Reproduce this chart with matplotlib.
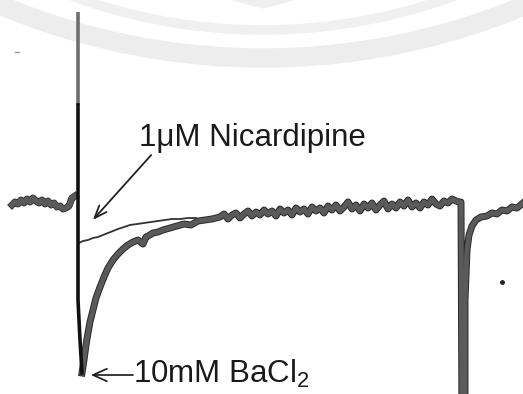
import matplotlib
matplotlib.use("Agg")
import matplotlib.pyplot as plt
import matplotlib.patheffects as pe
from matplotlib.patches import Arc
import numpy as np

plt.rcParams['font.family'] = ['Liberation Sans', 'DejaVu Sans']

# trace values: time (a.u.) and current (a.u., baseline ~ 0)
# y values below are given in picture rows, converted to current further down
pre_t = [12, 15, 18, 21, 24, 27, 30, 33, 36, 39, 42, 45, 48, 51, 54, 57, 60, 63, 66, 69, 72, 75]
pre_row = [205, 202, 204, 200, 203, 199, 202, 198, 201, 203, 200, 204, 201, 205, 203, 207, 206, 209, 208, 206, 198, 196]

# BaCl2 response (thick trace), including the second pulse at the right
ba_t = [82, 84, 86, 88, 90, 93, 96, 100, 104, 108, 113, 118, 123, 128, 133, 138, 143, 146, 148, 153,
        158, 163, 170, 177, 184, 191, 198, 205, 212,
        220, 224, 228, 232, 236, 240, 244, 248, 252, 256, 260, 264, 268, 272, 276, 280, 284, 288,
        292, 296, 300, 304, 308, 312, 316, 320, 324, 328, 332, 336, 340, 344, 348, 352, 356, 360,
        364, 368, 372, 376, 380, 384, 388, 392, 396, 400, 404, 408, 412, 416, 420, 424, 428, 432,
        436, 440, 444, 448, 452, 456, 459, 461, 462, 465, 465, 467, 469, 472, 476, 481, 487, 492,
        497, 502, 507, 512, 517, 523]
ba_row = [373, 360, 345, 333, 322, 310, 298, 287, 277, 268, 260, 254, 249, 245, 242, 240, 244, 237, 236, 233,
          232, 230, 228, 226, 224, 225, 221, 220, 219,
          217, 214, 219, 215, 213, 218, 214, 211, 216, 212, 215, 210, 214, 211, 216, 209, 213, 210,
          215, 208, 212, 209, 214, 207, 211, 208, 213, 206, 210, 205, 211, 207, 202, 209, 205, 211,
          204, 208, 203, 210, 205, 201, 209, 204, 208, 202, 206, 200, 207, 203, 208, 202, 205, 199,
          204, 206, 201, 203, 199, 201, 202, 202, 430, 430, 300, 250, 235, 226, 220, 217, 216, 213,
          214, 210, 211, 207, 208, 203]

# 1 uM nicardipine response (thin trace)
nic_t = [79, 83, 88, 93, 98, 103, 108, 113, 118, 124, 130, 137, 144, 151, 158, 165, 172, 180, 188, 196]
nic_row = [243, 241, 240, 238, 237, 235, 233, 231, 229, 227, 225, 224, 223, 222, 221, 220, 219, 219, 218, 218]

# application artefact
spike_t = [78, 78, 78, 80, 82]
spike_row = [12, 105, 300, 340, 373]

base_row = 203


def to_current(rows):
    return [base_row - r for r in rows]


fig = plt.figure(figsize=(5.23, 3.94), dpi=100)
ax = fig.add_axes([0, 0, 1, 1])
ax.set_xlim(0, 523)
ax.set_ylim(base_row - 394, base_row)
ax.axis('off')

# faint watermark arcs of the scanned page
ax.add_patch(Arc((263, base_row + 621), 2 * 679, 2 * 679, theta1=200, theta2=340,
                 lw=14, color='#ededed', zorder=0))
ax.add_patch(Arc((263, base_row + 525), 2 * 555, 2 * 555, theta1=225, theta2=315,
                 lw=7, color='#f0f0f0', zorder=0))
ax.fill([233, 263, 293], [base_row, base_row - 8, base_row], color='#efefef', zorder=0)

thick = [pe.Stroke(linewidth=5.0, foreground='#2a2a2a'), pe.Normal()]

ax.plot(pre_t, to_current(pre_row), color='#5a5a5a', lw=4.0, path_effects=thick, zorder=2)
ax.plot(ba_t, to_current(ba_row), color='#5a5a5a', lw=3.6, path_effects=thick, zorder=2)
ax.plot(nic_t, to_current(nic_row), color='#333333', lw=1.3, zorder=3)

sp = to_current(spike_row)
ax.plot(spike_t[:2], sp[:2], color='#6e6e6e', lw=2.6, zorder=4, solid_capstyle='butt')
ax.plot(spike_t[1:], sp[1:], color='#111111', lw=2.6, zorder=4)

# specks on the scan
ax.plot([502], [base_row - 282], 'o', color='#222222', ms=2.5)
ax.plot([15, 19], [base_row - 52, base_row - 52], color='#9a9a9a', lw=1)

ax.annotate('', xy=(91, base_row - 222), xytext=(153, base_row - 153),
            arrowprops=dict(arrowstyle='->,head_length=0.9,head_width=0.35', lw=1.3, color='#222222'))
ax.text(139, base_row - 146, '1\u03bcM Nicardipine', fontsize=22.5, color='#1a1a1a', va='baseline')

ax.annotate('', xy=(91, base_row - 375), xytext=(133, base_row - 375),
            arrowprops=dict(arrowstyle='->,head_length=1.0,head_width=0.45', lw=1.2, color='#1a1a1a',
                            shrinkA=0, shrinkB=0))
ax.text(133, base_row - 383, r'10mM BaCl$_\mathregular{2}$', fontsize=22.5, color='#1a1a1a',
        va='baseline')

fig.savefig('out.png', dpi=100, facecolor='white')
